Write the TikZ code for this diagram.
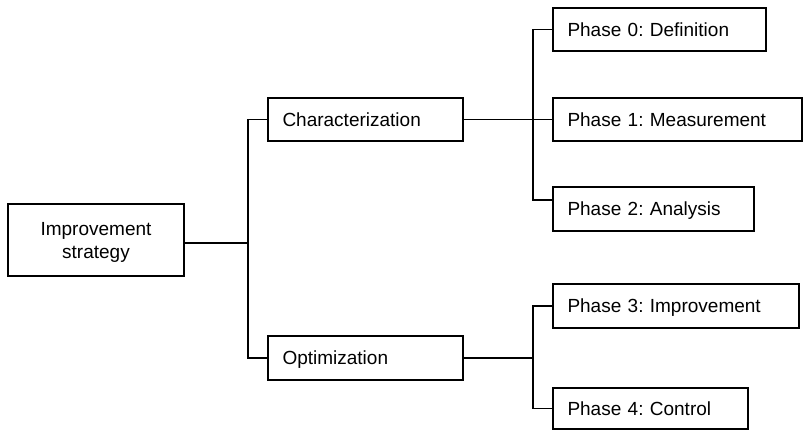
\documentclass[tikz,border=0pt]{standalone}
\usepackage{fontspec}
\setmainfont{Liberation Sans}
\frenchspacing
\begin{document}
\begin{tikzpicture}[x=1pt,y=-1pt,
  box/.style={draw, line width=2pt, rectangle, anchor=north west, inner xsep=14.5pt, inner ysep=0pt, align=left, text height=13.6pt, text depth=0pt, font=\fontsize{19pt}{23.3pt}\selectfont\frenchspacing},
  conn/.style={line width=1.5pt}]
\useasboundingbox (0,0) rectangle (803,430);
\node[box, align=center, inner xsep=0pt, minimum width=176pt, minimum height=72pt, text height=36.9pt, text depth=0pt] (is) at (7,203) {Improvement\\strategy};
\node[box, text width=166pt, minimum height=43pt] (char) at (267,97) {Characterization};
\node[box, text width=166pt, minimum height=44pt] (opt) at (267,335) {Optimization};
\node[box, text width=184pt, minimum height=43pt] (p0) at (552,7) {Phase 0: Definition};
\node[box, text width=220pt, minimum height=43pt] (p1) at (552,97) {Phase 1: Measurement};
\node[box, text width=172pt, minimum height=44pt] (p2) at (552,186) {Phase 2: Analysis};
\node[box, text width=217pt, minimum height=44pt] (p3) at (552,283) {Phase 3: Improvement};
\node[box, text width=166pt, minimum height=41pt] (p4) at (552,387) {Phase 4: Control};
\coordinate (bus) at (248,0);
\coordinate (bus2) at (533,0);
\draw[conn] ([yshift=-3pt]is.east) -- ([yshift=-3pt]is.east -| bus);
\draw[conn] (char.west) -- (char.west -| bus) -- (opt.west -| bus) -- (opt.west);
\draw[conn] (char.east) -- (p1.west);
\draw[conn] (p0.west) -- (p0.west -| bus2) -- ([yshift=9pt]p2.west -| bus2) -- ([yshift=9pt]p2.west);
\draw[conn] (opt.east) -- (opt.east -| bus2);
\draw[conn] (p3.west) -- (p3.west -| bus2) -- (p4.west -| bus2) -- (p4.west);
\end{tikzpicture}
\end{document}
